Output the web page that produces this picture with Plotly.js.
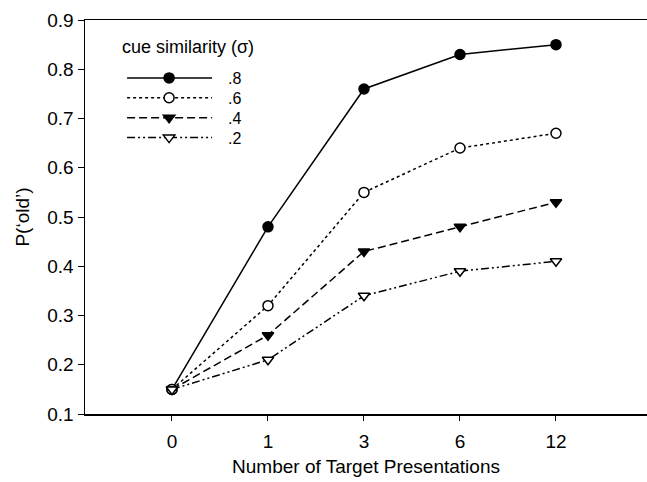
<!DOCTYPE html>
<html>
<head>
<meta charset="utf-8">
<script src="https://cdn.plot.ly/plotly-3.0.1.min.js"></script>
<style>html,body{margin:0;padding:0;background:#fff;}#chart{width:647px;height:482px;}</style>
</head>
<body>
<div id="chart"></div>
<script>
var categories = ["0", "1", "3", "6", "12"];
var seriesNames = [".8", ".6", ".4", ".2"];
var sim08 = [0.15, 0.48, 0.76, 0.83, 0.85];
var sim06 = [0.15, 0.32, 0.55, 0.64, 0.67];
var sim04 = [0.15, 0.26, 0.43, 0.48, 0.53];
var sim02 = [0.15, 0.21, 0.34, 0.39, 0.41];
var yTicks = [0.1, 0.2, 0.3, 0.4, 0.5, 0.6, 0.7, 0.8, 0.9];
var legendTitle = "cue similarity (σ)";

var FONT = "Liberation Sans, Arial, sans-serif";
var xIdx = categories.map(function(c, i){ return i; });

function mk(name, y, dash, symbol, fill){
  return {
    x: xIdx, y: y, name: name, type: "scatter", mode: "lines+markers",
    line: {color: "#000", width: 1.5, dash: dash},
    marker: {symbol: symbol, size: 10, color: fill, line: {color: "#000", width: 1.5}}
  };
}

var data = [
  mk(seriesNames[0], sim08, "solid", "circle", "#000"),
  mk(seriesNames[1], sim06, "dot", "circle", "#fff"),
  mk(seriesNames[2], sim04, "8px,4px", "triangle-down", "#000"),
  mk(seriesNames[3], sim02, "8px,3px,2px,3px,2px,3px", "triangle-down", "#fff")
];

var layout = {
  width: 647, height: 482,
  margin: {l: 85, r: 0, t: 20, b: 68},
  paper_bgcolor: "#fff", plot_bgcolor: "#fff",
  font: {family: FONT, color: "#000", size: 18},
  showlegend: true,
  legend: {
    x: 0.066, y: 0.891, xanchor: "left", yanchor: "top",
    bgcolor: "rgba(0,0,0,0)", borderwidth: 0,
    font: {family: FONT, size: 13, color: "#000"},
    tracegroupgap: 0, itemwidth: 96
  },
  annotations: [{
    xref: "paper", yref: "paper", x: 0.0623, y: 0.931, xanchor: "left", yanchor: "middle",
    text: legendTitle, showarrow: false, font: {family: FONT, size: 18, color: "#000"}
  }],
  xaxis: {
    range: [-0.906, 4.948],
    tickmode: "array", tickvals: xIdx, ticktext: categories,
    showgrid: false, zeroline: false,
    showline: true, linecolor: "#000", linewidth: 1.5, mirror: true,
    ticks: "outside", ticklen: 5, tickwidth: 1, tickcolor: "#000",
    ticklabelstandoff: 5,
    tickfont: {family: FONT, size: 19},
    title: {text: "Number of Target Presentations", font: {family: FONT, size: 19}, standoff: 8}
  },
  yaxis: {
    range: [0.1, 0.9],
    tickmode: "array", tickvals: yTicks, ticktext: yTicks.map(function(v){return v.toFixed(1);}),
    showgrid: false, zeroline: false,
    showline: true, linecolor: "#000", linewidth: 1.5, mirror: false,
    ticks: "outside", ticklen: 6, tickwidth: 1, tickcolor: "#000",
    tickfont: {family: FONT, size: 19},
    title: {text: "P(‘old’)", font: {family: FONT, size: 19}, standoff: 12}
  }
};

Plotly.newPlot("chart", data, layout, {displayModeBar: false, staticPlot: true}).then(function(gd){
  // lengthen the legend sample lines and enlarge labels like the original figure
  var items = gd.querySelectorAll(".legend .traces");
  items.forEach(function(g){
    var ln = g.querySelector("path.js-line");
    if (ln) ln.setAttribute("d", "M5,0h85");
    var pts = g.querySelectorAll(".legendpoints path.scatterpts");
    pts.forEach(function(p){ p.setAttribute("transform", "translate(47,0)"); });
    var tx = g.querySelector("text.legendtext");
    if (tx) { tx.style.fontSize = "16px"; tx.setAttribute("y", "6"); }
  });
});
</script>
</body>
</html>
